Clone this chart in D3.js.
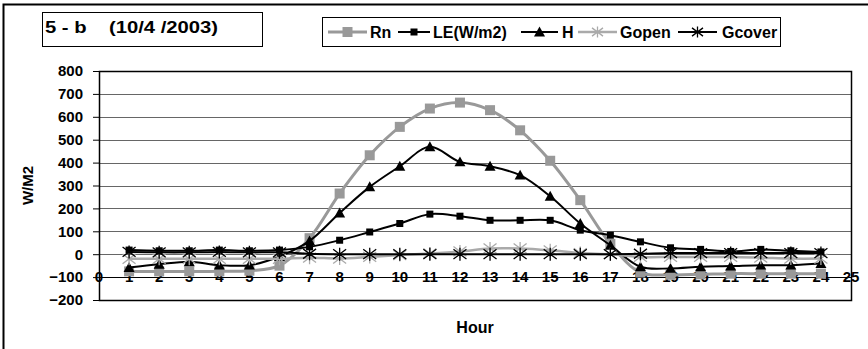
<!DOCTYPE html>
<html>
<head>
<meta charset="utf-8">
<script src="https://cdn.jsdelivr.net/npm/d3@7"></script>
<style>
  body { margin: 0; background: #fff; }
  svg text { font-family: "Liberation Sans", Arial, sans-serif; font-weight: bold; fill: #000; }
</style>
</head>
<body>
<svg id="chart" width="868" height="349"></svg>
<script>
// hours 1..24
var hours = d3.range(1, 25);
var rn     = [-75,-75,-75,-75,-72,-50,70,265,432,556,636,662,629,541,408,236,45,-80,-90,-88,-85,-85,-85,-85];
var le     = [18,15,15,18,15,18,32,61,97,134,175,166,148,148,148,105,83,54,28,21,12,21,15,10];
var h      = [-58,-44,-33,-48,-48,-10,58,180,294,384,469,403,384,345,253,134,39,-55,-62,-55,-52,-48,-48,-41];
var gopen  = [-20,-20,-20,-20,-20,-20,-15,-19,-12,-4,3,12,25,25,17,5,0,-12,-12,-12,-12,-15,-19,-19];
var gcover = [10,8,8,10,8,8,2,0,0,0,0,0,0,0,0,0,0,2,5,5,5,5,5,5];
var yTicks = d3.range(-200, 801, 100);
var xTicks = d3.range(0, 26);

var series = [
  {name: "Rn", values: rn, color: "#999", width: 3, marker: "square", size: 10},
  {name: "LE(W/m2)", values: le, color: "#000", width: 2, marker: "square", size: 7},
  {name: "H", values: h, color: "#000", width: 2, marker: "triangle", size: 11},
  {name: "Gopen", values: gopen, color: "#aaa", width: 2.5, marker: "star", size: 13},
  {name: "Gcover", values: gcover, color: "#000", width: 2, marker: "star", size: 13}
];

var svg = d3.select("#chart");
var pLeft = 99, pRight = 851, pTop = 71, pBottom = 300;

var x = d3.scaleLinear().domain([0, 25]).range([pLeft, pRight]);
var y = d3.scaleLinear().domain([-200, 800]).range([pBottom, pTop]);

// outer chart frame
svg.append("rect").attr("x", 3.5).attr("y", 4.5).attr("width", 880).attr("height", 360)
  .attr("fill", "none").attr("stroke", "#000").attr("stroke-width", 2);

// title box
svg.append("rect").attr("x", 42.5).attr("y", 12.5).attr("width", 220).attr("height", 34)
  .attr("fill", "#fff").attr("stroke", "#000").attr("stroke-width", 1);
svg.append("text").attr("x", 45).attr("y", 33).style("font-size", "16px")
  .attr("xml:space", "preserve").attr("textLength", 173).attr("lengthAdjust", "spacingAndGlyphs")
  .text("5 - b    (10/4 /2003)");

// grid lines
svg.append("g").selectAll("line").data(yTicks).enter().append("line")
  .attr("x1", pLeft).attr("x2", pRight)
  .attr("y1", d => Math.round(y(d)) + 0.5).attr("y2", d => Math.round(y(d)) + 0.5)
  .attr("stroke", "#666").attr("stroke-width", 1);

// y axis
var yAxis = svg.append("g").attr("transform", "translate(" + pLeft + ",0)")
  .call(d3.axisLeft(y).tickValues(yTicks).tickSize(6).tickPadding(10).tickFormat(d3.format("d")));
yAxis.select(".domain").remove();
yAxis.selectAll("line").attr("stroke", "#000");
yAxis.selectAll("text").style("font-size", "15px").attr("font-family", null);

// plot frame
svg.append("rect").attr("x", pLeft + 0.5).attr("y", pTop + 0.5)
  .attr("width", pRight - pLeft).attr("height", pBottom - pTop)
  .attr("fill", "none").attr("stroke", "#000").attr("stroke-width", 1.5);

// x axis labels sitting on the -100 line
var x0 = Math.round(y(-100)) + 0.5;
svg.append("g").selectAll("text").data(xTicks).enter().append("text")
  .attr("x", d => x(d)).attr("y", x0 + 4)
  .attr("text-anchor", "middle").style("font-size", "15px")
  .text(d => d);
svg.append("line").attr("x1", pLeft).attr("x2", pRight).attr("y1", x0).attr("y2", x0)
  .attr("stroke", "#000").attr("stroke-width", 1);

// axis titles
svg.append("text").attr("transform", "translate(33," + y(300) + ") rotate(-90)")
  .attr("text-anchor", "middle").style("font-size", "15px").text("W/M2");
svg.append("text").attr("x", 475).attr("y", 333).attr("text-anchor", "middle")
  .style("font-size", "16px").text("Hour");

function drawMarker(g, s, cx, cy) {
  var r = s.size / 2;
  if (s.marker === "square") {
    g.append("rect").attr("x", cx - r).attr("y", cy - r).attr("width", s.size).attr("height", s.size)
      .attr("fill", s.color);
  } else if (s.marker === "triangle") {
    g.append("path").attr("d", "M" + cx + "," + (cy - r) + "L" + (cx + r) + "," + (cy + r * 0.8) +
      "L" + (cx - r) + "," + (cy + r * 0.8) + "Z").attr("fill", s.color);
  } else {
    var dx = r, dy = r * 0.75;
    g.append("path").attr("d",
      "M" + cx + "," + (cy - r) + "L" + cx + "," + (cy + r) +
      "M" + (cx - dx) + "," + (cy - dy) + "L" + (cx + dx) + "," + (cy + dy) +
      "M" + (cx - dx) + "," + (cy + dy) + "L" + (cx + dx) + "," + (cy - dy))
      .attr("stroke", s.color).attr("stroke-width", 1.3).attr("fill", "none");
  }
}

var line = d3.line().x((d, i) => x(hours[i])).y(d => y(d)).curve(d3.curveCatmullRom.alpha(0.5));

series.forEach(function(s) {
  var g = svg.append("g");
  g.append("path").datum(s.values).attr("d", line)
    .attr("fill", "none").attr("stroke", s.color).attr("stroke-width", s.width);
  s.values.forEach(function(v, i) { drawMarker(g, s, x(hours[i]), y(v)); });
});

// legend
svg.append("rect").attr("x", 322.5).attr("y", 17.5).attr("width", 458).attr("height", 29)
  .attr("fill", "#fff").attr("stroke", "#000").attr("stroke-width", 1);
var legLine = [[328, 367], [398, 430], [521, 558], [578, 617], [678, 717]];
var legText = [370, 433, 562, 620, 722];
series.forEach(function(s, i) {
  var g = svg.append("g");
  var ly = 32, a = legLine[i][0], b = legLine[i][1];
  g.append("line").attr("x1", a).attr("x2", b).attr("y1", ly).attr("y2", ly)
    .attr("stroke", s.color).attr("stroke-width", s.width);
  drawMarker(g, Object.assign({}, s, {size: Math.min(s.size, 11)}), (a + b) / 2, ly);
  g.append("text").attr("x", legText[i]).attr("y", ly + 6).style("font-size", "16px").text(s.name);
});
</script>
</body>
</html>
